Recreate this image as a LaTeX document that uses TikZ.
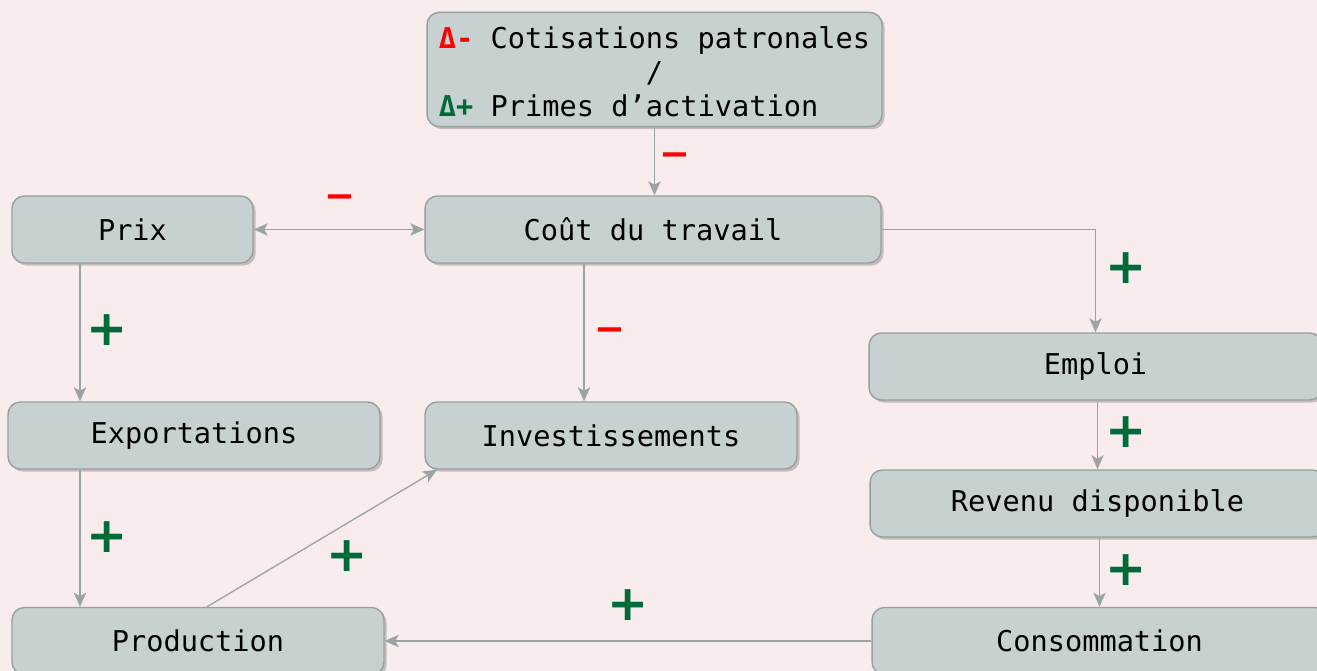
\documentclass[tikz,border=0pt]{standalone}
\usepackage{fontspec}
\setmainfont{DejaVu Sans Mono}
\newfontfamily\signfont{DejaVu Sans}
\usetikzlibrary{arrows.meta,shadows}

\definecolor{fond}{HTML}{F8ECEC}
\definecolor{boite}{HTML}{C8D1D2}
\definecolor{bord}{HTML}{979F9F}
\definecolor{fleche}{HTML}{9CA3A3}
\definecolor{rouge}{HTML}{FF0000}
\definecolor{vert}{HTML}{006B38}

\tikzset{
  pointe/.tip={Stealth[length=8pt,width=7pt,inset=2pt]},
  bloc/.style={draw=bord, fill=boite, line width=0.8pt, rounded corners=7pt,
    minimum height=1.34cm, inner sep=0pt,
    drop shadow={shadow xshift=1.5pt, shadow yshift=-1.5pt, opacity=0.2, fill=black},
    font=\fontsize{16.3}{19.4}\selectfont},
  lien/.style={draw=fleche, line width=0.75pt, -pointe},
  signeplus/.style={text=vert, font=\signfont\fontsize{28}{28}\bfseries\selectfont, inner sep=0pt},
  signemoins/.style={text=rouge, font=\signfont\fontsize{21}{21}\bfseries\selectfont, inner sep=0pt}
}

\begin{document}
\begin{tikzpicture}[x=0.02cm, y=-0.02cm]
  \useasboundingbox[fill=fond] (0,0) rectangle (1317,671);

  % les blocs
  \node[bloc, minimum width=9.1cm, minimum height=2.22cm] (cotis) at (654.5,69.5) {%
    \begin{tabular}{@{}l@{}}
      \rule{0pt}{20.4pt}{\bfseries\color{rouge}Δ-} Cotisations patronales\\
      \multicolumn{1}{@{}c@{}}{/}\\
      {\bfseries\color{vert}Δ+} Primes d’activation
    \end{tabular}};
  \node[bloc, minimum width=4.82cm] (prix) at (132.5,229.5) {Prix};
  \node[bloc, minimum width=9.12cm] (cout) at (653,229.5) {Coût du travail};
  \node[bloc, minimum width=9.06cm] (emploi) at (1095.5,366.5) {Emploi};
  \node[bloc, minimum width=7.44cm] (export) at (194,435.5) {Exportations};
  \node[bloc, minimum width=7.44cm] (invest) at (611,435.5) {Investissements};
  \node[bloc, minimum width=9.1cm] (revenu) at (1097.5,503.5) {Revenu disponible};
  \node[bloc, minimum width=7.44cm] (prod) at (198,641) {Production};
  \node[bloc, minimum width=9.1cm] (conso) at (1099.5,641) {Consommation};

  % points de passage
  \coordinate (ci) at (584,0);
  \coordinate (pe) at (80,0);
  \coordinate (pa) at (207,0);
  \coordinate (pb) at (437,0);

  % les liens
  \draw[lien] (cotis.south) -- (cotis.south |- cout.north);
  \draw[lien, pointe-pointe] (prix.east) -- (cout.west);
  \draw[lien] (cout.east) -| (emploi.north);
  \draw[lien] (cout.south -| ci) -- (invest.north -| ci);
  \draw[lien] (prix.south -| pe) -- (export.north -| pe);
  \draw[lien] (export.south -| pe) -- (prod.north -| pe);
  \draw[lien] (prod.north -| pa) -- (invest.south -| pb);
  \draw[lien] (conso.west) -- (prod.east);
  \draw[lien] (emploi.south -| revenu.north) -- (revenu.north);
  \draw[lien] (revenu.south -| conso.north) -- (conso.north);

  % les signes
  \node[signemoins] (m1) at (675,160) {−};
  \node[signemoins] (m2) at (340,202) {−};
  \node[signemoins] (m3) at (610,335) {−};
  \node[signeplus] (p1) at (1126,268) {+};
  \node[signeplus] (p2) at (107,330) {+};
  \node[signeplus] (p3) at (107,537) {+};
  \node[signeplus] (p4) at (347,556) {+};
  \node[signeplus] (p5) at (628,605) {+};
  \node[signeplus] (p6) at (1126,432) {+};
  \node[signeplus] (p7) at (1126,570) {+};
\end{tikzpicture}
\end{document}
